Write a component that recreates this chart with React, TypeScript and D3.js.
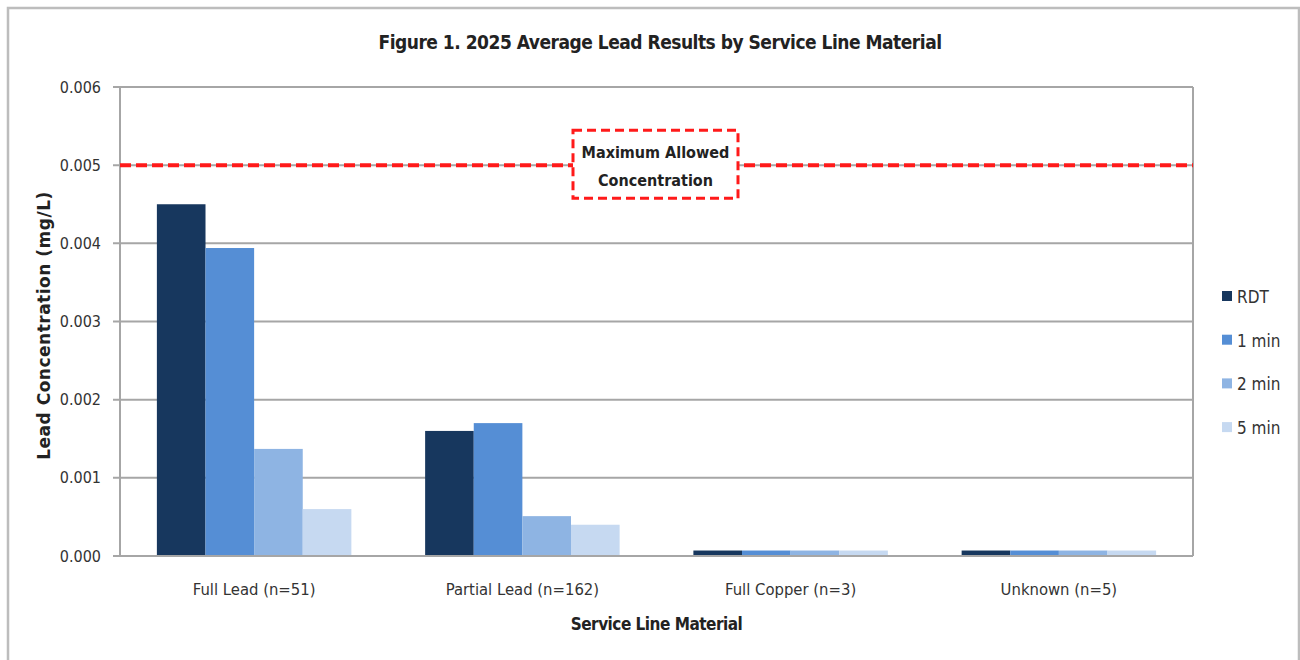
import React, { useEffect, useRef } from "react";
import * as d3 from "d3";

const categories = ["Full Lead (n=51)", "Partial Lead (n=162)", "Full Copper (n=3)", "Unknown (n=5)"];
const seriesNames = ["RDT", "1 min", "2 min", "5 min"];
const rdt = [0.0045, 0.0016, 0.00007, 0.00007];
const oneMin = [0.00394, 0.0017, 0.00007, 0.00007];
const twoMin = [0.00137, 0.00051, 0.00007, 0.00007];
const fiveMin = [0.0006, 0.0004, 0.00007, 0.00007];
const yTicks = [0, 0.001, 0.002, 0.003, 0.004, 0.005, 0.006];
const maxAllowed = 0.005;

const colors = ["#17375e", "#558ed5", "#8eb4e3", "#c6d9f1"];
const narrow = "'Liberation Sans Narrow', 'DejaVu Sans Condensed', 'Roboto', sans-serif";

const W = 1300;
const H = 660;
const margin = { top: 87, right: 107, bottom: 104, left: 120 };

const App: React.FC = () => {
  const svgRef = useRef<SVGSVGElement | null>(null);

  useEffect(() => {
    if (!svgRef.current) return;
    const svg = d3.select(svgRef.current);
    svg.selectAll("*").remove();

    const series = [rdt, oneMin, twoMin, fiveMin];
    const plotW = W - margin.left - margin.right;
    const plotH = H - margin.top - margin.bottom;

    // outer frame
    svg.append("rect").attr("width", W).attr("height", H).attr("fill", "#fff");
    svg
      .append("path")
      .attr("d", `M8,${H} V8 H${W - 1} V${H}`)
      .attr("fill", "none")
      .attr("stroke", "#bdbdbd")
      .attr("stroke-width", 2.5);

    svg
      .append("text")
      .attr("x", 660)
      .attr("y", 49)
      .attr("text-anchor", "middle")
      .attr("font-family", narrow)
      .attr("font-weight", "bold")
      .attr("font-size", 19)
      .attr("letter-spacing", -0.5)
      .attr("fill", "#222")
      .text("Figure 1. 2025 Average Lead Results by Service Line Material");

    const g = svg.append("g").attr("transform", `translate(${margin.left},${margin.top})`);

    const y = d3.scaleLinear().domain([0, 0.006]).range([plotH, 0]);
    const x0 = d3
      .scaleBand<string>()
      .domain(categories)
      .range([0, plotW])
      .paddingInner(0.275)
      .paddingOuter(0.1375);
    const x1 = d3.scaleBand<number>().domain(d3.range(series.length)).range([0, x0.bandwidth()]);

    // gridlines
    g.append("g")
      .selectAll("line")
      .data(yTicks)
      .join("line")
      .attr("x1", -7)
      .attr("x2", plotW)
      .attr("y1", (d) => y(d))
      .attr("y2", (d) => y(d))
      .attr("stroke", "#a6a6a6")
      .attr("stroke-width", 2);

    g.append("line")
      .attr("x1", 0)
      .attr("x2", 0)
      .attr("y1", 0)
      .attr("y2", plotH)
      .attr("stroke", "#a6a6a6")
      .attr("stroke-width", 2);
    g.append("line")
      .attr("x1", plotW)
      .attr("x2", plotW)
      .attr("y1", 0)
      .attr("y2", plotH)
      .attr("stroke", "#a6a6a6")
      .attr("stroke-width", 2);

    // y tick labels
    g.append("g")
      .selectAll("text")
      .data(yTicks)
      .join("text")
      .attr("x", -19)
      .attr("y", (d) => y(d))
      .attr("dy", "0.35em")
      .attr("text-anchor", "end")
      .attr("font-family", narrow)
      .attr("font-size", 16)
      .attr("fill", "#333")
      .text((d) => d3.format(".3f")(d));

    // bars
    const groups = g
      .append("g")
      .selectAll("g")
      .data(categories)
      .join("g")
      .attr("transform", (d) => `translate(${x0(d)},0)`);

    groups
      .selectAll("rect")
      .data((_, i) => series.map((s, k) => ({ k, v: s[i] })))
      .join("rect")
      .attr("x", (d) => x1(d.k)!)
      .attr("width", x1.bandwidth())
      .attr("y", (d) => y(d.v))
      .attr("height", (d) => plotH - y(d.v))
      .attr("fill", (d) => colors[d.k]);

    // baseline on top of bars
    g.append("line")
      .attr("x1", -7)
      .attr("x2", plotW)
      .attr("y1", plotH)
      .attr("y2", plotH)
      .attr("stroke", "#a6a6a6")
      .attr("stroke-width", 2);

    // x labels
    g.append("g")
      .selectAll("text")
      .data(categories)
      .join("text")
      .attr("x", (d) => x0(d)! + x0.bandwidth() / 2)
      .attr("y", plotH + 39)
      .attr("text-anchor", "middle")
      .attr("font-family", narrow)
      .attr("font-size", 16.5)
      .attr("fill", "#333")
      .text((d) => d);

    // max allowed line
    const yMax = y(maxAllowed);
    g.append("line")
      .attr("x1", 0)
      .attr("x2", plotW)
      .attr("y1", yMax)
      .attr("y2", yMax)
      .attr("stroke", "#ff1a1a")
      .attr("stroke-width", 4)
      .attr("stroke-dasharray", "11,5");

    const boxX = 573 - margin.left;
    const boxW = 165;
    g.append("rect")
      .attr("x", boxX)
      .attr("y", yMax - 35)
      .attr("width", boxW)
      .attr("height", 68)
      .attr("fill", "#fff")
      .attr("stroke", "#ff1a1a")
      .attr("stroke-width", 3)
      .attr("stroke-dasharray", "9,5");
    const boxText = g
      .append("text")
      .attr("text-anchor", "middle")
      .attr("font-family", narrow)
      .attr("font-weight", "bold")
      .attr("font-size", 16)
      .attr("fill", "#222");
    boxText.append("tspan").attr("x", boxX + boxW / 2).attr("y", yMax - 7).text("Maximum Allowed");
    boxText.append("tspan").attr("x", boxX + boxW / 2).attr("y", yMax + 21).text("Concentration");

    // axis titles
    svg
      .append("text")
      .attr("transform", `translate(50,${margin.top + plotH / 2 + 4}) rotate(-90)`)
      .attr("text-anchor", "middle")
      .attr("font-family", "'DejaVu Sans', sans-serif")
      .attr("font-weight", "bold")
      .attr("font-size", 17)
      .attr("letter-spacing", 0.5)
      .attr("fill", "#222")
      .text("Lead Concentration (mg/L)");

    svg
      .append("text")
      .attr("x", margin.left + plotW / 2)
      .attr("y", 630)
      .attr("text-anchor", "middle")
      .attr("font-family", narrow)
      .attr("font-weight", "bold")
      .attr("font-size", 17)
      .attr("letter-spacing", -0.5)
      .attr("fill", "#222")
      .text("Service Line Material");

    // legend
    const legend = svg
      .append("g")
      .selectAll("g")
      .data(seriesNames)
      .join("g")
      .attr("transform", (_, i) => `translate(1222,${297 + i * 43.7})`);
    legend
      .append("rect")
      .attr("x", 0)
      .attr("y", -6)
      .attr("width", 10)
      .attr("height", 10)
      .attr("fill", (_, i) => colors[i]);
    legend
      .append("text")
      .attr("x", 15)
      .attr("y", 0)
      .attr("dy", "0.35em")
      .attr("font-family", narrow)
      .attr("font-size", 17)
      .attr("fill", "#333")
      .text((d) => d);
  }, []);

  return (
    <svg
      ref={svgRef}
      width={W}
      height={H}
      style={{ position: "absolute", left: 0, top: 0 }}
    />
  );
};

export default App;
